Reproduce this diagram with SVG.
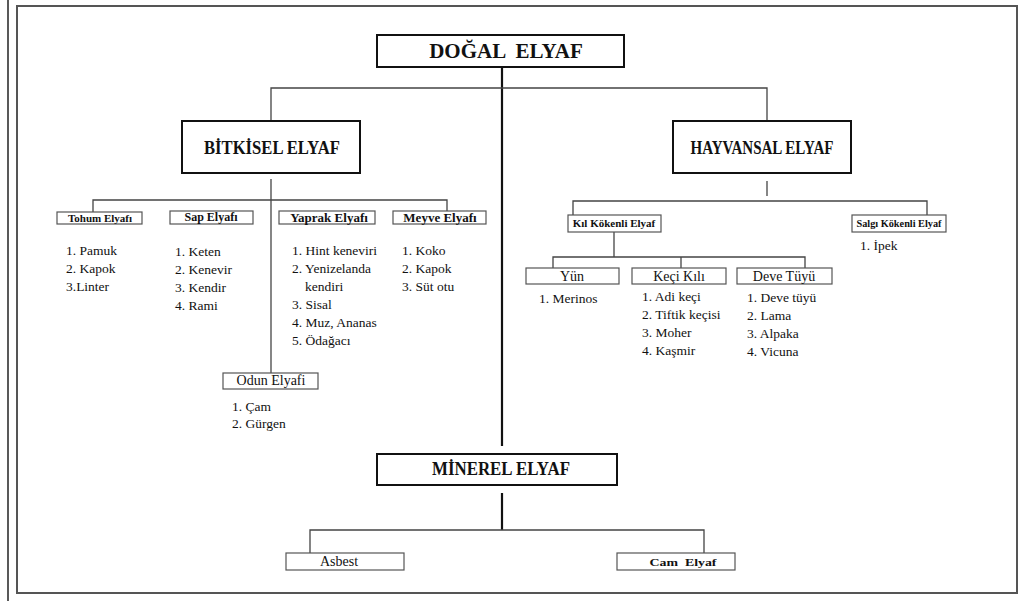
<svg xmlns="http://www.w3.org/2000/svg" width="1020" height="601" viewBox="0 0 1020 601">
<style>
.bg{fill:#fff}
.frame{fill:none;stroke:#555;stroke-width:2}
.main{fill:#fff;stroke:#111;stroke-width:2}
.sub{fill:#fff;stroke:#555;stroke-width:1.2}
.c{fill:none;stroke:#444;stroke-width:1.3}
.ct{fill:none;stroke:#111;stroke-width:2.2}
text{font-family:"Liberation Serif","Times New Roman",serif;fill:#111}
.t1{font-size:21px;font-weight:bold}
.t2{font-size:18px;font-weight:bold}
.b11{font-size:11px;font-weight:bold}
.b12{font-size:12px;font-weight:bold}
.b13{font-size:13px;font-weight:bold}
.r14{font-size:14px}
.li{font-family:"Liberation Serif",serif;font-size:13.5px}
</style>
<rect class="bg" x="0" y="0" width="1020" height="601"/>
<line x1="8" y1="0" x2="8" y2="601" stroke="#222" stroke-width="1.5"/>
<rect class="frame" x="17" y="6" width="1000" height="587"/>

<g id="connectors">
  <line class="ct" x1="502" y1="67" x2="502" y2="446"/>
  <polyline class="c" points="271,121 271,88 767,88 767,121"/>
  <line class="c" x1="271" y1="179" x2="271" y2="373"/>
  <polyline class="c" points="93,212 93,200 447,200 447,212"/>
  <line class="c" x1="767" y1="181" x2="767" y2="196"/>
  <polyline class="c" points="573,215 573,201 927,201 927,215"/>
  <line class="c" x1="614" y1="232" x2="614" y2="257"/>
  <polyline class="c" points="553,268 553,257 805,257 805,268"/>
  <line class="c" x1="681" y1="257" x2="681" y2="268"/>
  <line class="ct" x1="502" y1="493" x2="502" y2="530"/>
  <polyline class="c" points="310,553 310,530 704,530 704,553"/>
</g>

<g id="dogal">
  <rect class="main" x="377" y="35" width="247" height="32"/>
  <text class="t1" x="506" y="58" text-anchor="middle" xml:space="preserve">DOĞAL  ELYAF</text>
</g>

<g id="bitkisel">
  <rect class="main" x="182" y="121" width="178" height="52"/>
  <text class="t2" x="272" y="154" text-anchor="middle" textLength="136" lengthAdjust="spacingAndGlyphs">BİTKİSEL ELYAF</text>
</g>

<g id="hayvansal">
  <rect class="main" x="673" y="121" width="178" height="52"/>
  <text class="t2" x="762" y="154" text-anchor="middle" textLength="143" lengthAdjust="spacingAndGlyphs">HAYVANSAL ELYAF</text>
</g>

<g id="tohum">
  <rect class="sub" x="57" y="212" width="85" height="12"/>
  <text class="b11" x="100" y="222" text-anchor="middle">Tohum Elyafı</text>
  <text class="li" x="66" y="255">1. Pamuk</text>
  <text class="li" x="66" y="273">2. Kapok</text>
  <text class="li" x="66" y="291">3.Linter</text>
</g>

<g id="sap">
  <rect class="sub" x="170" y="211" width="83" height="13"/>
  <text class="b12" x="211" y="221" text-anchor="middle">Sap Elyafı</text>
  <text class="li" x="175" y="256">1. Keten</text>
  <text class="li" x="175" y="274">2. Kenevir</text>
  <text class="li" x="175" y="292">3. Kendir</text>
  <text class="li" x="175" y="310">4. Rami</text>
</g>

<g id="yaprak">
  <rect class="sub" x="279" y="211" width="96" height="13"/>
  <text class="b13" x="329" y="222" text-anchor="middle">Yaprak Elyafı</text>
  <text class="li" x="292" y="255">1. Hint keneviri</text>
  <text class="li" x="292" y="273">2. Yenizelanda</text>
  <text class="li" x="305" y="291">kendiri</text>
  <text class="li" x="292" y="309">3. Sisal</text>
  <text class="li" x="292" y="327">4. Muz, Ananas</text>
  <text class="li" x="292" y="345">5. Ödağacı</text>
</g>

<g id="meyve">
  <rect class="sub" x="393" y="211" width="93" height="13"/>
  <text class="b13" x="440" y="222" text-anchor="middle">Meyve Elyafı</text>
  <text class="li" x="402" y="255">1. Koko</text>
  <text class="li" x="402" y="273">2. Kapok</text>
  <text class="li" x="402" y="291">3. Süt otu</text>
</g>

<g id="odun">
  <rect class="sub" x="223" y="373" width="95" height="16"/>
  <text class="r14" x="271" y="385" text-anchor="middle">Odun Elyafi</text>
  <text class="li" x="232" y="411">1. Çam</text>
  <text class="li" x="232" y="428">2. Gürgen</text>
</g>

<g id="kil">
  <rect class="sub" x="568" y="215" width="93" height="17"/>
  <text class="b11" x="614" y="227" text-anchor="middle">Kıl Kökenli Elyaf</text>
</g>

<g id="salgi">
  <rect class="sub" x="852" y="215" width="94" height="17"/>
  <text class="b11" x="899" y="227" text-anchor="middle" textLength="85" lengthAdjust="spacingAndGlyphs">Salgı Kökenli Elyaf</text>
  <text class="li" x="860" y="250">1. İpek</text>
</g>

<g id="yun">
  <rect class="sub" x="526" y="268" width="93" height="16"/>
  <text class="r14" x="572" y="281" text-anchor="middle">Yün</text>
  <text class="li" x="539" y="303">1. Merinos</text>
</g>

<g id="keci">
  <rect class="sub" x="632" y="268" width="94" height="16"/>
  <text class="r14" x="679" y="281" text-anchor="middle">Keçi Kılı</text>
  <text class="li" x="642" y="301">1. Adi keçi</text>
  <text class="li" x="642" y="319">2. Tiftik keçisi</text>
  <text class="li" x="642" y="337">3. Moher</text>
  <text class="li" x="642" y="355">4. Kaşmir</text>
</g>

<g id="deve">
  <rect class="sub" x="737" y="268" width="95" height="16"/>
  <text class="r14" x="784" y="281" text-anchor="middle">Deve Tüyü</text>
  <text class="li" x="747" y="302">1. Deve tüyü</text>
  <text class="li" x="747" y="320">2. Lama</text>
  <text class="li" x="747" y="338">3. Alpaka</text>
  <text class="li" x="747" y="356">4. Vicuna</text>
</g>

<g id="minerel">
  <rect class="main" x="377" y="454" width="240" height="31"/>
  <text class="t2" x="501" y="475" text-anchor="middle" textLength="138" lengthAdjust="spacingAndGlyphs">MİNEREL ELYAF</text>
</g>

<g id="asbest">
  <rect class="sub" x="286" y="553" width="118" height="17"/>
  <text class="r14" x="339" y="566" text-anchor="middle">Asbest</text>
</g>

<g id="cam">
  <rect class="sub" x="617" y="553" width="118" height="17"/>
  <text class="b11" x="683" y="566" text-anchor="middle" textLength="67" lengthAdjust="spacingAndGlyphs" xml:space="preserve">Cam  Elyaf</text>
</g>
</svg>
